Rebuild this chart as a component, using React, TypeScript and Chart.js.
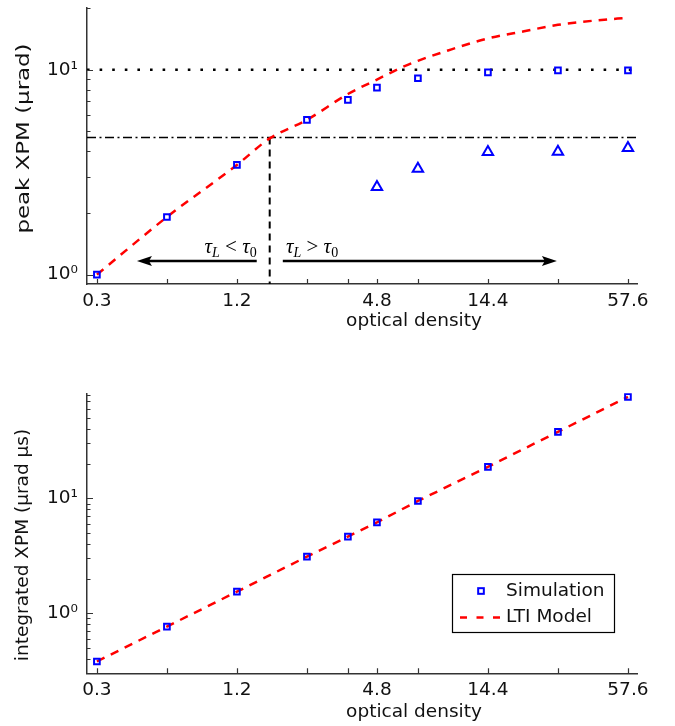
import React, { useEffect, useRef } from 'react';
import { Chart, registerables } from 'chart.js';

Chart.register(...registerables);

// ---------------- data ----------------
const opticalDensity = [0.3, 0.6, 1.2, 2.4, 3.6, 4.8, 7.2, 14.4, 28.8, 57.6];
const xTickLabels = ['0.3', '1.2', '4.8', '14.4', '57.6'];
const xRange = [0.272, 63];

// top panel: peak XPM (µrad)
const peakSimulation = [1.0, 1.91, 3.43, 5.69, 7.12, 8.17, 9.08, 9.7, 9.93, 9.93];
const peakSimulationTriX = [4.8, 7.2, 14.4, 28.8, 57.6];
const peakSimulationTri = [2.68, 3.29, 3.97, 3.98, 4.15];
const peakLtiX = [0.3, 0.6, 1.2, 1.66, 2.4, 3.6, 4.8, 6.15, 7.2, 9.7, 14.4, 20.6, 28.8, 42.0, 57.6];
const peakLti = [1.0, 1.91, 3.43, 4.62, 5.69, 7.61, 8.95, 10.28, 11.05, 12.41, 14.2, 15.4, 16.55, 17.39, 17.92];
const peakSaturationLevel = 10;
const peakThresholdLevel = 4.67;
const crossoverDensity = 1.66;
const peakYRange = [0.9, 20];
const peakYTicks = [1, 2, 3, 4, 5, 6, 7, 8, 9, 10, 20];
const peakYLabelValues = [1, 10];
const peakYLabels = ['10\u2070', '10\u00B9'];

// regime annotation (top panel)
const regimeRelations = ['<', '>'];
const regimeLabelX = [1.46, 1.95];
const regimeLabelLevel = 1.276;
const leftArrowX = [1.46, 0.446];
const rightArrowX = [1.89, 28.5];
const arrowLevel = 1.165;

// bottom panel: integrated XPM (µrad µs)
const integratedSimulation = [0.38, 0.765, 1.54, 3.11, 4.64, 6.18, 9.48, 18.8, 37.9, 76.4];
const integratedLti = [0.38, 0.765, 1.54, 3.11, 4.64, 6.18, 9.48, 18.8, 37.9, 76.4];
const integratedYRange = [0.3, 82];
const integratedYTicks = [0.3, 0.4, 0.5, 0.6, 0.7, 0.8, 0.9, 1, 2, 3, 4, 5, 6, 7, 8, 9, 10, 20, 30, 40, 50, 60, 70, 80];
const integratedYLabelValues = [1, 10];
const integratedYLabels = ['10\u2070', '10\u00B9'];

const legendLabels = ['Simulation', 'LTI Model'];

// ---------------- styles ----------------
const FONT = '"DejaVu Sans"';
const FS = 18.5;
const TEXT = '#111111';
const AXIS = '#333333';
const BLUE = '#0000ff';
const RED = '#ff0000';

const tickMarks = {
  id: 'tickMarks',
  afterDatasetsDraw(chart: any) {
    const { ctx, chartArea: ca, scales } = chart;
    const xs = scales.x;
    const ys = scales.y;
    ctx.save();
    ctx.strokeStyle = AXIS;
    ctx.lineWidth = 1.2;
    ctx.beginPath();
    for (const t of xs.ticks) {
      const px = Math.round(xs.getPixelForValue(t.value)) + 0.5;
      ctx.moveTo(px, ca.bottom);
      ctx.lineTo(px, ca.bottom - 5);
    }
    for (const t of ys.ticks) {
      const py = Math.round(ys.getPixelForValue(t.value)) + 0.5;
      const major = t.label && t.label !== '';
      ctx.moveTo(ca.left, py);
      ctx.lineTo(ca.left + (major ? 6 : 3.5), py);
    }
    ctx.stroke();
    ctx.restore();
  },
};

const axisTitles = {
  id: 'axisTitles',
  afterDraw(chart: any, _args: any, o: any) {
    const { ctx, chartArea: ca } = chart;
    ctx.save();
    ctx.fillStyle = TEXT;
    ctx.font = `${FS}px ${FONT}`;
    ctx.textAlign = 'center';
    ctx.textBaseline = 'alphabetic';
    ctx.fillText(o.xText, ca.left + o.xCenter, ca.bottom + o.xBaseline);
    ctx.translate(o.yBaseline, (ca.top + ca.bottom) / 2 + o.yShift);
    ctx.rotate(-Math.PI / 2);
    ctx.scale(o.yStretch, 1);
    ctx.fillText(o.yText, 0, 0);
    ctx.restore();
  },
};

function drawArrow(ctx: any, x1: number, x2: number, y: number) {
  const dir = Math.sign(x2 - x1);
  ctx.beginPath();
  ctx.moveTo(x1, y);
  ctx.lineTo(x2 - dir * 10, y);
  ctx.stroke();
  ctx.beginPath();
  ctx.moveTo(x2, y);
  ctx.lineTo(x2 - dir * 15, y - 5);
  ctx.lineTo(x2 - dir * 12, y);
  ctx.lineTo(x2 - dir * 15, y + 5);
  ctx.closePath();
  ctx.fill();
}

function drawRegimeLabel(ctx: any, relation: string, anchorX: number, baseY: number, align: string) {
  const big = 'italic 21px "Liberation Serif"';
  const sub = 'italic 14px "Liberation Serif"';
  const subUp = '14px "Liberation Serif"';
  const rel = '21px "Liberation Serif"';
  const parts = [
    { t: '\u03C4', f: big, dy: 0 },
    { t: 'L', f: sub, dy: 4 },
    { t: ` ${relation} `, f: rel, dy: 0 },
    { t: '\u03C4', f: big, dy: 0 },
    { t: '0', f: subUp, dy: 4 },
  ];
  let total = 0;
  const widths = parts.map((p) => {
    ctx.font = p.f;
    const w = ctx.measureText(p.t).width;
    total += w;
    return w;
  });
  let x = align === 'right' ? anchorX - total : anchorX;
  ctx.textAlign = 'left';
  ctx.textBaseline = 'alphabetic';
  parts.forEach((p, i) => {
    ctx.font = p.f;
    ctx.fillText(p.t, x, baseY + p.dy);
    x += widths[i];
  });
}

const regimeAnnotations = {
  id: 'regimeAnnotations',
  afterDatasetsDraw(chart: any) {
    const { ctx, scales } = chart;
    const xs = scales.x;
    const ys = scales.y;
    ctx.save();
    ctx.strokeStyle = '#000';
    ctx.fillStyle = '#000';
    ctx.lineWidth = 2.5;
    const ay = ys.getPixelForValue(arrowLevel);
    drawArrow(ctx, xs.getPixelForValue(leftArrowX[0]), xs.getPixelForValue(leftArrowX[1]), ay);
    drawArrow(ctx, xs.getPixelForValue(rightArrowX[0]), xs.getPixelForValue(rightArrowX[1]), ay);
    const by = ys.getPixelForValue(regimeLabelLevel);
    drawRegimeLabel(ctx, regimeRelations[0], xs.getPixelForValue(regimeLabelX[0]), by, 'right');
    drawRegimeLabel(ctx, regimeRelations[1], xs.getPixelForValue(regimeLabelX[1]), by, 'left');
    ctx.restore();
  },
};

const boxLegend = {
  id: 'boxLegend',
  afterDraw(chart: any, _args: any, o: any) {
    const { ctx, chartArea: ca } = chart;
    const right = ca.right - o.right;
    const bottom = ca.bottom - o.bottom;
    const left = right - o.width;
    const top = bottom - o.height;
    ctx.save();
    ctx.fillStyle = '#ffffff';
    ctx.fillRect(left, top, o.width, o.height);
    ctx.strokeStyle = '#000';
    ctx.lineWidth = 1.2;
    ctx.strokeRect(left + 0.5, top + 0.5, o.width - 1, o.height - 1);
    const ds = chart.data.datasets;
    // row 1: marker
    const r1 = top + 17;
    ctx.strokeStyle = ds[0].borderColor;
    ctx.lineWidth = 2;
    const s = 5.66;
    ctx.strokeRect(left + 29 - s / 2, r1 - s / 2, s, s);
    // row 2: dashed line
    const r2 = top + 43.5;
    ctx.strokeStyle = ds[1].borderColor;
    ctx.lineWidth = 2.5;
    ctx.setLineDash([7, 9.5]);
    ctx.beginPath();
    ctx.moveTo(left + 8, r2);
    ctx.lineTo(left + 49, r2);
    ctx.stroke();
    ctx.setLineDash([]);
    ctx.fillStyle = TEXT;
    ctx.font = `${FS}px ${FONT}`;
    ctx.textAlign = 'left';
    ctx.textBaseline = 'middle';
    ctx.fillText(legendLabels[0], left + 54, r1);
    ctx.fillText(legendLabels[1], left + 54, r2);
    ctx.restore();
  },
};

function xScale(height: number) {
  return {
    type: 'logarithmic',
    min: xRange[0],
    max: xRange[1],
    grid: { display: false, drawTicks: false },
    border: { display: true, color: AXIS, width: 1.5 },
    ticks: {
      autoSkip: false,
      maxRotation: 0,
      minRotation: 0,
      padding: 6,
      color: TEXT,
      font: { family: FONT, size: FS },
      callback: (v: number) => {
        const l = xTickLabels.find((s) => Math.abs(parseFloat(s) - v) < 1e-6);
        return l === undefined ? '' : l;
      },
    },
    afterBuildTicks: (s: any) => {
      s.ticks = opticalDensity.map((v) => ({ value: v }));
    },
    afterFit: (s: any) => {
      s.height = height;
      s.paddingLeft = 0;
      s.paddingRight = 0;
    },
  };
}

function yScale(range: number[], ticks: number[], labelValues: number[], labels: string[]) {
  return {
    type: 'logarithmic',
    min: range[0],
    max: range[1],
    grid: { display: false, drawTicks: false },
    border: { display: true, color: AXIS, width: 1.5 },
    ticks: {
      autoSkip: false,
      padding: 9,
      color: TEXT,
      font: { family: FONT, size: FS },
      callback: (v: number) => {
        const i = labelValues.findIndex((lv) => Math.abs(lv - v) < 1e-9);
        return i < 0 ? '' : labels[i];
      },
    },
    afterBuildTicks: (s: any) => {
      s.ticks = ticks.map((v) => ({ value: v }));
    },
    afterFit: (s: any) => {
      s.width = 87;
      s.paddingTop = 0;
      s.paddingBottom = 0;
    },
  };
}

const pts = (xs: number[], ys: number[]) => xs.map((x, i) => ({ x, y: ys[i] }));

function topConfig(): any {
  return {
    type: 'scatter',
    data: {
      datasets: [
        {
          label: 'Simulation',
          data: pts(opticalDensity, peakSimulation),
          pointStyle: 'rect',
          pointRadius: 4,
          borderWidth: 2,
          borderColor: BLUE,
          backgroundColor: 'rgba(0,0,0,0)',
          showLine: false,
        },
        {
          label: 'Simulation (2)',
          data: pts(peakSimulationTriX, peakSimulationTri),
          pointStyle: 'triangle',
          pointRadius: 6,
          borderWidth: 2,
          borderColor: BLUE,
          backgroundColor: 'rgba(0,0,0,0)',
          showLine: false,
        },
        {
          label: 'LTI Model',
          data: pts(peakLtiX, peakLti),
          showLine: true,
          borderColor: RED,
          borderWidth: 2.5,
          borderDash: [8.5, 7],
          cubicInterpolationMode: 'monotone',
          pointRadius: 0,
        },
        {
          label: 'saturation',
          data: xRange.map((x) => ({ x, y: peakSaturationLevel })),
          showLine: true,
          borderColor: '#000',
          borderWidth: 2.6,
          borderDash: [2.6, 10],
          pointRadius: 0,
        },
        {
          label: 'threshold',
          data: xRange.map((x) => ({ x, y: peakThresholdLevel })),
          showLine: true,
          borderColor: '#000',
          borderWidth: 1.6,
          borderDash: [9, 3.5, 2, 3.5],
          pointRadius: 0,
        },
        {
          label: 'crossover',
          data: [
            { x: crossoverDensity, y: peakThresholdLevel },
            { x: crossoverDensity, y: peakYRange[0] },
          ],
          showLine: true,
          borderColor: '#000',
          borderWidth: 2,
          borderDash: [7, 5],
          pointRadius: 0,
        },
      ],
    },
    options: {
      animation: false,
      responsive: true,
      maintainAspectRatio: false,
      devicePixelRatio: 1,
      events: [],
      layout: { padding: { left: 0, top: 4.4, right: 38, bottom: 0 } },
      scales: {
        x: xScale(61),
        y: yScale(peakYRange, peakYTicks, peakYLabelValues, peakYLabels),
      },
      plugins: {
        legend: { display: false },
        tooltip: { enabled: false },
        axisTitles: {
          xText: 'optical density',
          xCenter: 327,
          xBaseline: 42.3,
          yText: 'peak XPM (\u03BCrad)',
          yBaseline: 29,
          yShift: -7.5,
          yStretch: 1.237,
        },
      },
    },
    plugins: [tickMarks, axisTitles, regimeAnnotations],
  };
}

function bottomConfig(): any {
  return {
    type: 'scatter',
    data: {
      datasets: [
        {
          label: 'Simulation',
          data: pts(opticalDensity, integratedSimulation),
          pointStyle: 'rect',
          pointRadius: 4,
          borderWidth: 2,
          borderColor: BLUE,
          backgroundColor: 'rgba(0,0,0,0)',
          showLine: false,
        },
        {
          label: 'LTI Model',
          data: pts(opticalDensity, integratedLti),
          showLine: true,
          borderColor: RED,
          borderWidth: 2.5,
          borderDash: [8.5, 7],
          pointRadius: 0,
        },
      ],
    },
    options: {
      animation: false,
      responsive: true,
      maintainAspectRatio: false,
      devicePixelRatio: 1,
      events: [],
      layout: { padding: { left: 0, top: 48.3, right: 38, bottom: 0 } },
      scales: {
        x: xScale(52.7),
        y: yScale(integratedYRange, integratedYTicks, integratedYLabelValues, integratedYLabels),
      },
      plugins: {
        legend: { display: false },
        tooltip: { enabled: false },
        axisTitles: {
          xText: 'optical density',
          xCenter: 327,
          xBaseline: 44,
          yText: 'integrated XPM (\u03BCrad \u03BCs)',
          yBaseline: 27.5,
          yShift: 11.7,
          yStretch: 1.0,
        },
        boxLegend: { right: 22, bottom: 40.3, width: 163, height: 59 },
      },
    },
    plugins: [tickMarks, axisTitles, boxLegend],
  };
}

export default function App() {
  const topRef = useRef<HTMLCanvasElement | null>(null);
  const bottomRef = useRef<HTMLCanvasElement | null>(null);

  useEffect(() => {
    Chart.defaults.font.family = FONT;
    const c1 = new Chart(topRef.current as HTMLCanvasElement, topConfig());
    const c2 = new Chart(bottomRef.current as HTMLCanvasElement, bottomConfig());
    return () => {
      c1.destroy();
      c2.destroy();
    };
  }, []);

  return (
    <div style={{ position: 'absolute', left: 0, top: 0, width: 675, height: 726, background: '#ffffff' }}>
      <div style={{ position: 'absolute', left: 0, top: 0, width: 675, height: 345 }}>
        <canvas ref={topRef} />
      </div>
      <div style={{ position: 'absolute', left: 0, top: 345, width: 675, height: 381 }}>
        <canvas ref={bottomRef} />
      </div>
    </div>
  );
}
